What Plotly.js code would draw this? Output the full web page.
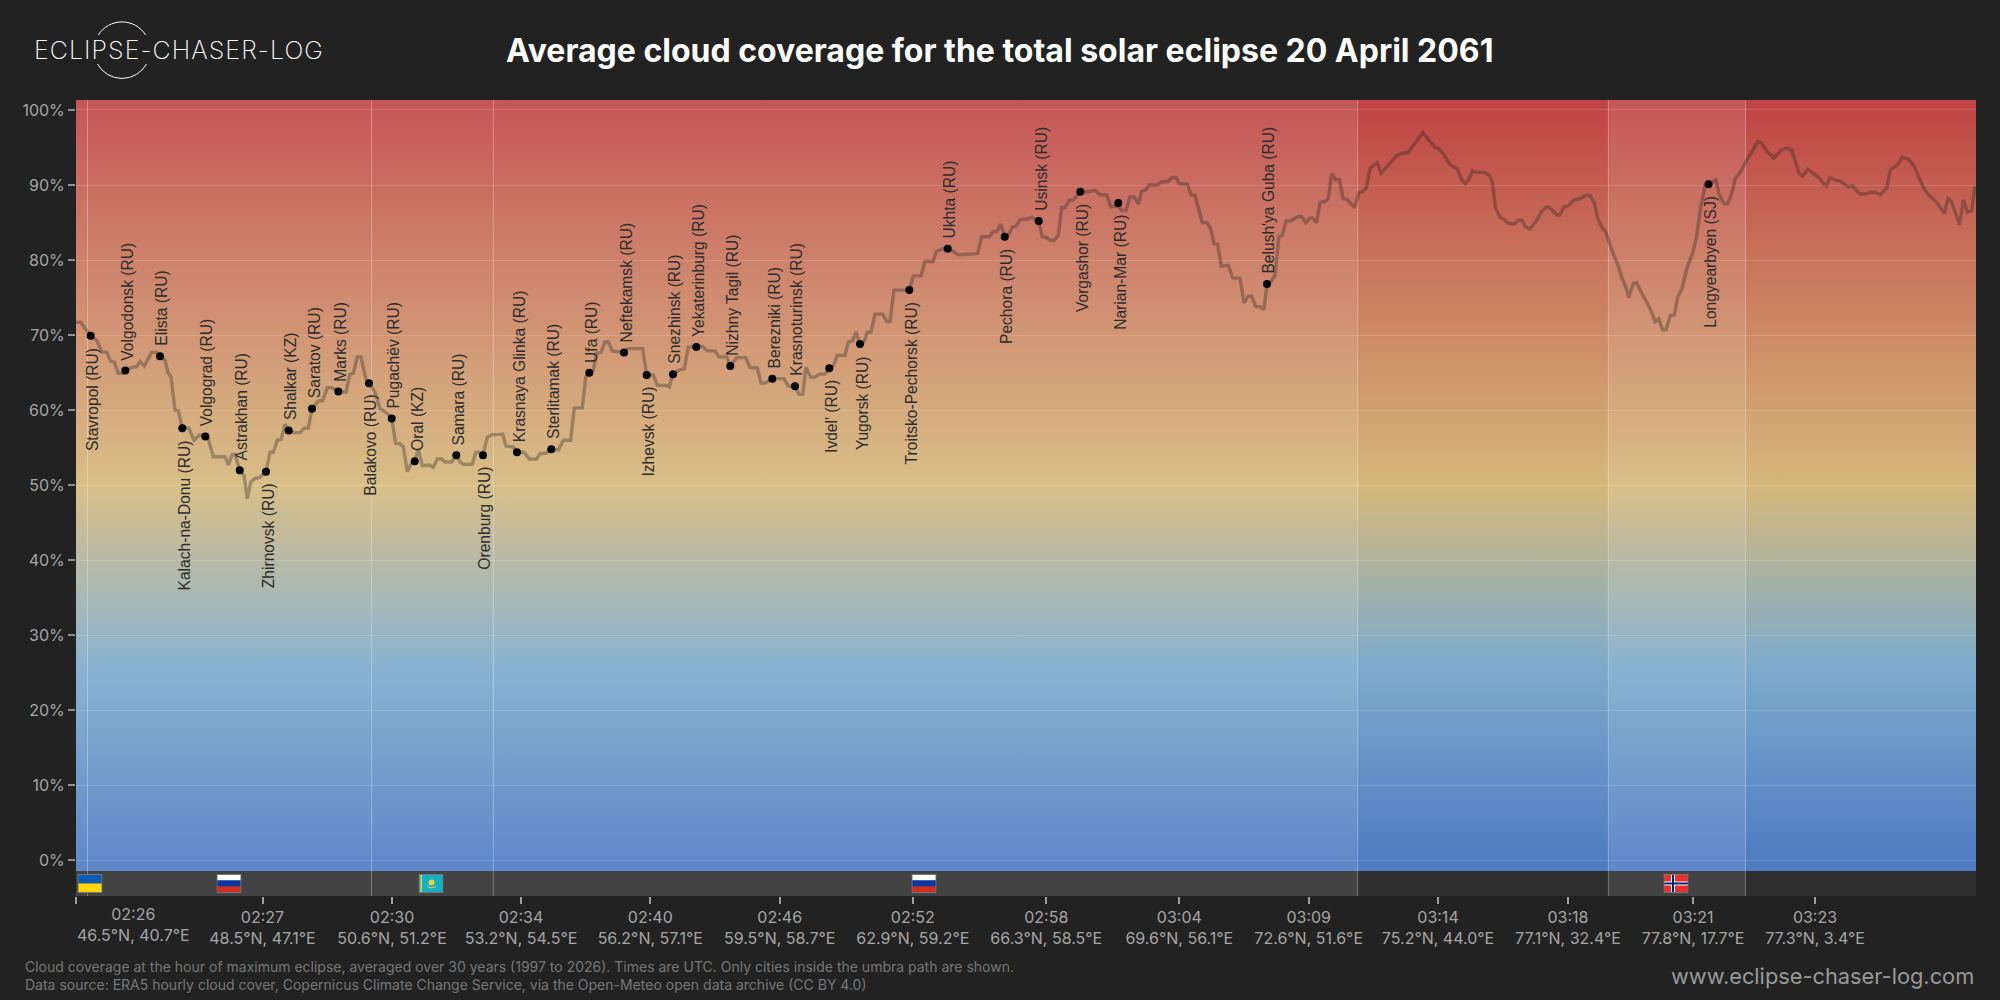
<!DOCTYPE html>
<html>
<head>
<meta charset="utf-8">
<script src="https://cdn.plot.ly/plotly-3.0.1.min.js"></script>
<style>html,body{margin:0;padding:0;background:#222222}#chart{width:2000px;height:1000px}
text[data-unformatted="ECLIPSE-CHASER-LOG"]{letter-spacing:1.05px}</style>
</head>
<body>
<div id="chart"></div>
<script>
const pathPos = [0,4.7,9,14.7,20.7,25.7,30.7,34.7,38.3,42.3,47.3,49.3,55.7,60.7,64,68.3,75.7,80.7,84,89,91.7,95,99,102.3,106.3,113,118,123.3,129.3,132.3,137.3,149,152.3,156.3,159,163.7,168,171.3,174.7,179,183.3,190,194,197.3,201.3,205,209,212.7,217.3,224,228.3,232.3,236,242.3,246.7,251.3,255.7,262.3,270,274,277.3,281.3,285,289.7,293,299,304,309,315.7,319.7,324,327.3,331.3,335,338.7,342.3,346.3,353.3,357.3,361.3,365.7,369,375.7,380.3,384,387.3,396.3,399.7,403.3,407,411.3,415.7,426.7,430,437.3,441,
448,453.3,460.7,464,470.7,475.3,482.3,487.3,494.7,498.3,506.3,509.7,513.3,517.3,520.7,525,529,532.3,536.3,544,548,551.7,566.7,570.7,577.3,581.3,589.7,593.3,597,604,608.3,612.3,620.3,626.3,631.3,639,643,650.7,654.3,660.7,669.7,674,681.3,685,689,696.3,708,712.3,719,723,726.7,730,734.7,739,743.3,749,753.3,757.3,761.3,769,772.3,776.3,780,784,788,791.3,795,799,806.7,810.7,814,
818,833.3,837.3,845,849,856.7,860.7,867.3,871.7,876.7,882.3,894,901.7,905.7,913.3,917.3,920.7,924.7,928.7,932.3,936.3,940,944,951.7,955.7,962.7,966.3,970.7,974.7,978,982.3,985.7,989,993.3,997.3,1004.3,1012.3,1019,1024,1030.7,1034.7,1042.3,1045.7,1050,1054,1058.3,1062.3,1065.7,1069.7,1073.3,1081.3,1084.7,1092.3,1095.7,1099.7,1103.3,1111.3,1115,1119,1126.3,1130.7,1134.7,1138,1141.7,1145.3,1152.3,1156.7,1164,1168,1172.3,1175.7,1179.7,1184,1188,1191,1195,1199,1203,1206.3,1210,1214,1222.3,1225.7,1229.7,1234,1236.7,1240.7,1244,1249,1252.3,
1255.7,1260,1263.5,1267,1270.9,1278.7,1283,1286.5,1290.4,1293.9,1301.2,1305.1,1313.4,1321.2,1326.4,1332,1346.8,1354.6,1358.9,1362.4,1367.6,1374.1,1381.5,1385.8,1389.3,1392.7,1396.6,1400.1,1407.9,1413.1,1416.2,1419.6,1424,1428.3,1432.6,1438.3,1442.6,1446.1,1449.1,1453.9,1460.8,1465.2,1469.5,1472.5,1481.2,1483.8,1488.1,1492,1497.7,1504.2,1509.8,1514.2,1518.5,1521.5,1525.9,1530.2,1537.6,1541.9,1545.4,1549.3,1552.8,1557.1,1560.6,1565.8,1574.9,1579.2,1582.7,1586.6,1590,1594.4,1598.3,1601.8,1606.1,1610.4,1617,1620.4,1624.7,1629.1,1634.3,1639.9,1643,1648.2,1651.6,1655.5,1659.4,1664.6,1671.1,1682,1685.5,1690.7,1698,1705.8,1710.2,1715.8,1723.2,1726.7,1731.9,1742.7,1747.9,1750.5,1754,1758.8,1764.4,1773,1776.5,1783.9,1788.2,1794.7,1799.1,1804.3,1810.8,1814.3,1822.1,1826.4,1832.9,1838.1,1842.4,1847.6,1852.4,1860.6,1868.4,1871.9,1875.4,1883.6,1887.5,1891.4,1895.8,1898.8,1900];
const cloudCover = [71.7,71.7,70.9,69.9,69.3,67.8,67.7,66.5,66.4,64.9,64.9,65.3,65.7,65.8,66.5,65.9,67.7,67.7,67.2,66.7,65.1,64.4,60.0,59.9,57.6,57.6,56.0,56.7,56.5,56.2,53.8,53.8,52.7,54.1,54.1,52.0,51.3,48.2,50.4,50.9,51.0,51.8,54.4,54.4,56.0,56.1,58.1,57.3,57.0,57.0,57.6,57.6,60.2,61.2,61.3,63.0,63.0,62.5,62.4,64.8,64.9,67.1,67.1,64.2,63.6,62.4,60.2,59.8,58.9,55.6,55.5,55.1,51.8,52.8,53.2,54.8,52.6,52.7,52.4,53.5,53.5,53.1,53.1,54.0,53.1,52.8,52.8,54.4,54.4,54.0,56.4,56.7,56.8,55.2,55.1,54.4,
54.4,53.5,53.5,54.2,54.3,54.8,54.7,56.0,56.0,60.3,60.3,64.4,65.0,65.3,67.6,67.7,69.1,69.1,67.9,67.7,67.7,68.2,68.2,64.7,64.7,63.3,63.3,63.1,64.8,65.4,65.5,68.4,68.4,68.5,67.9,67.9,67.1,67.1,65.9,67.0,67.0,65.7,65.6,63.6,63.6,64.2,64.2,63.2,63.2,62.1,62.1,65.7,64.4,64.4,64.8,64.8,65.6,65.9,67.3,67.3,69.1,69.2,70.4,68.8,69.1,70.4,70.4,72.8,72.8,71.8,71.8,
76.0,76.0,77.9,77.9,79.8,79.8,81.2,81.5,81.5,81.2,80.7,80.8,80.9,83.1,83.1,83.8,83.8,84.8,83.1,83.3,84.4,84.5,85.4,85.5,85.7,85.2,83.1,83.0,82.6,82.6,83.3,87.0,87.0,88.0,88.0,89.1,89.1,89.3,88.7,88.7,87.1,87.2,86.6,86.6,88.4,88.4,87.5,89.2,89.3,90.0,90.0,90.4,90.5,91.0,91.0,90.2,90.1,88.7,88.6,85.0,85.0,84.2,82.2,82.1,79.2,79.3,77.6,77.6,74.3,75.2,75.2,73.8,73.8,73.4,76.8,77.1,78.0,83.2,83.3,85.2,85.2,85.8,85.8,85.0,85.6,85.6,85.0,87.7,87.8,88.2,
91.5,90.7,90.7,88.2,88.1,87.0,89.0,89.1,89.6,92.2,93.0,91.6,92.8,94.0,94.2,94.3,97.0,95.6,95.0,94.9,94.1,92.7,92.1,90.7,90.2,90.7,91.9,91.7,91.7,91.3,90.5,86.9,85.7,85.4,84.9,84.8,85.3,85.3,84.5,84.1,85.3,86.4,87.0,87.1,86.0,86.0,87.1,87.2,88.0,88.2,88.6,88.6,87.6,85.6,84.4,83.6,80.7,79.4,77.8,76.6,75.0,76.8,77.0,75.6,73.3,71.8,72.2,70.7,70.7,72.6,72.7,75.1,76.2,78.7,81.1,83.0,87.0,90.0,90.2,90.7,88.8,87.5,87.5,88.8,90.9,91.8,93.4,95.8,95.6,94.5,93.6,94.7,94.9,94.7,91.5,91.2,92.1,91.0,90.1,89.9,91.0,90.7,90.5,89.7,89.9,88.8,88.8,89.0,89.0,88.7,89.6,92.0,92.8,93.7,93.4,92.5,91.1,89.6,88.7,87.7,86.2,88.2,87.8,84.7,88.0,86.4,86.6,89.6,89.6];

const cityNames = ["Stavropol (RU)","Volgodonsk (RU)","Elista (RU)","Kalach-na-Donu (RU)","Volgograd (RU)","Astrakhan (RU)","Zhirnovsk (RU)","Shalkar (KZ)","Saratov (RU)","Marks (RU)","Balakovo (RU)","Pugachëv (RU)","Oral (KZ)","Samara (RU)","Orenburg (RU)","Krasnaya Glinka (RU)","Sterlitamak (RU)","Ufa (RU)","Neftekamsk (RU)","Izhevsk (RU)","Snezhinsk (RU)","Yekaterinburg (RU)","Nizhny Tagil (RU)","Berezniki (RU)","Krasnoturinsk (RU)","Ivdel' (RU)","Yugorsk (RU)","Troitsko-Pechorsk (RU)","Ukhta (RU)","Pechora (RU)","Usinsk (RU)","Vorgashor (RU)","Narian-Mar (RU)","Belush'ya Guba (RU)","Longyearbyen (SJ)"];
const cityPos = [14.7,49.3,84,106.3,129.3,163.7,190,212.7,236,262.3,293,315.7,338.7,380.3,407,441,475.3,513.3,548,570.7,597,620.3,654.3,696.3,719,753.3,784,833.3,871.7,928.7,962.7,1004.3,1042.3,1191,1632.5];
const cityCover = [69.9,65.3,67.2,57.6,56.5,52.0,51.8,57.3,60.2,62.5,63.6,58.9,53.2,54.0,54.0,54.4,54.8,65.0,67.7,64.7,64.8,68.4,65.9,64.2,63.2,65.6,68.8,76.0,81.5,83.1,85.2,89.1,87.6,76.8,90.1];
const cityLabelSide = ["down","up","up","down","up","up","down","up","up","up","down","up","up","up","down","up","up","up","up","down","up","up","up","up","up","down","down","down","up","down","up","down","down","up","down"];

const tickPos = [0,186.5,316,445,574.3,703.7,836.8,970.3,1103.3,1232.7,1362,1492,1617,1739];
const tickTimes = ["02:26","02:27","02:30","02:34","02:40","02:46","02:52","02:58","03:04","03:09","03:14","03:18","03:21","03:23"];
const tickCoords = ["46.5°N, 40.7°E","48.5°N, 47.1°E","50.6°N, 51.2°E","53.2°N, 54.5°E","56.2°N, 57.1°E","59.5°N, 58.7°E","62.9°N, 59.2°E","66.3°N, 58.5°E","69.6°N, 56.1°E","72.6°N, 51.6°E","75.2°N, 44.0°E","77.1°N, 32.4°E","77.8°N, 17.7°E","77.3°N, 3.4°E"];
const yTicks = [0,10,20,30,40,50,60,70,80,90,100];
const yLabels = ["0%","10%","20%","30%","40%","50%","60%","70%","80%","90%","100%"];

const zoneStart = [0,1532.4];
const zoneEnd = [1281.7,1669.4];
const borderPos = [11.5,295.6,417.3,1281.7,1532.4,1669.4];
const flagPos = [14,153,355,848,1600];
const flagNames = ["UA","RU","KZ","RU","NO"];

const svgUri = s => "data:image/svg+xml;charset=utf-8," + encodeURIComponent(s);
const flagBody = {
  UA:'<rect width="24" height="9" fill="#0a5ab8"/><rect y="9" width="24" height="9" fill="#fdd50a"/>',
  RU:'<rect width="24" height="6" fill="#ffffff"/><rect y="6" width="24" height="6" fill="#0a36a8"/><rect y="12" width="24" height="6" fill="#d52b1e"/>',
  KZ:'<rect width="24" height="18" fill="#11b0c4"/><rect x="1.5" width="1.5" height="18" fill="#f0d040"/><circle cx="12.5" cy="8" r="3" fill="#f0d040"/><path d="M8 12 Q12.5 15 17 12" stroke="#f0d040" fill="none"/>',
  NO:'<rect width="24" height="18" fill="#ef2b2d"/><rect x="7" width="4" height="18" fill="#fff"/><rect y="7" width="24" height="4" fill="#fff"/><rect x="8" width="2" height="18" fill="#002868"/><rect y="8" width="24" height="2" fill="#002868"/>'
};
const flagSvg = k => svgUri('<svg xmlns="http://www.w3.org/2000/svg" width="25" height="19" viewBox="-0.5 -0.5 25 19">'+flagBody[k]+'<rect x="0" y="0" width="24" height="18" fill="none" stroke="#777" stroke-width="1"/></svg>');
const gradientSvg = svgUri('<svg xmlns="http://www.w3.org/2000/svg" width="10" height="771" preserveAspectRatio="none" viewBox="0 0 10 771"><defs><linearGradient id="g" x1="0" y1="0" x2="0" y2="1" gradientUnits="objectBoundingBox">'
  +'<stop offset="0" stop-color="#c04545"/><stop offset="0.0130" stop-color="#c04646"/><stop offset="0.4994" stop-color="#d5b87b"/><stop offset="0.7329" stop-color="#7eabcb"/><stop offset="0.9857" stop-color="#4f7cc3"/><stop offset="1" stop-color="#4e7bc2"/></linearGradient></defs><rect width="10" height="771" fill="url(#g)"/></svg>');
const logoSvg = svgUri('<svg xmlns="http://www.w3.org/2000/svg" width="64" height="64" viewBox="0 0 64 64"><path d="M8.3 17 A28 28 0 0 1 55.7 17" fill="none" stroke="#fff" stroke-width="1"/><path d="M7.5 46 A28 28 0 0 0 56.5 46" fill="none" stroke="#fff" stroke-width="1"/></svg>');

const px = x => (x-76)/1900, py = y => (896-y)/796;

const traces = [
  {type:"scatter",mode:"lines",x:pathPos,y:cloudCover,line:{color:"rgba(34,34,34,0.33)",width:3.4,shape:"linear"},hoverinfo:"skip"},
  {type:"scatter",mode:"markers",x:cityPos,y:cityCover,text:cityNames,marker:{color:"#000",size:8},hoverinfo:"text"}
];

const shapes = [];
zoneStart.forEach((s,i)=>shapes.push({type:"rect",layer:"between",xref:"x",yref:"paper",x0:s,x1:zoneEnd[i],y0:0,y1:1,fillcolor:"rgba(255,255,255,0.1)",line:{width:0}}));
borderPos.forEach(b=>shapes.push({type:"line",layer:"between",xref:"x",yref:"paper",x0:b,x1:b,y0:0,y1:1,line:{color:"rgba(255,255,255,0.3)",width:1}}));

const images = [
  {source:gradientSvg,xref:"paper",yref:"paper",x:0,y:1,sizex:1,sizey:771/796,xanchor:"left",yanchor:"top",sizing:"stretch",layer:"below"},
  {source:logoSvg,xref:"paper",yref:"paper",x:px(90),y:py(18),sizex:64/1900,sizey:64/796,xanchor:"left",yanchor:"top",sizing:"stretch",layer:"above"}
];
flagNames.forEach((f,i)=>images.push({source:flagSvg(f),xref:"x",yref:"y",x:flagPos[i],y:-3.07,sizex:25,sizey:2.53,xanchor:"center",yanchor:"middle",sizing:"stretch",layer:"above"}));

const annotations = cityNames.map((n,i)=>({
  text:n,x:cityPos[i],y:cityCover[i],xref:"x",yref:"y",showarrow:false,textangle:-90,
  xanchor:"center",yanchor:cityLabelSide[i]==="up"?"bottom":"top",xshift:2,yshift:cityLabelSide[i]==="up"?8:-10,
  font:{family:"Liberation Sans, Arial, sans-serif",size:15.6,color:"#2c2c2c"}
}));
annotations.push(
  {text:"Average cloud coverage for the total solar eclipse 20 April 2061",xref:"paper",yref:"paper",x:px(999),y:py(50),xanchor:"center",yanchor:"middle",showarrow:false,font:{family:"Inter, sans-serif",size:32,color:"#fff",weight:700}},
  {text:"ECLIPSE-CHASER-LOG",xref:"paper",yref:"paper",x:px(32),y:py(50),xanchor:"left",yanchor:"middle",showarrow:false,font:{family:"Inter, sans-serif",size:25,color:"#fff",weight:200}},
  {text:tickTimes[0]+"<br>"+tickCoords[0],xref:"paper",yref:"paper",x:0,y:py(903),xanchor:"left",yanchor:"top",align:"center",showarrow:false,borderpad:0,font:{family:"Inter, sans-serif",size:16,color:"#a6a6a6"}},
  {text:"Cloud coverage at the hour of maximum eclipse, averaged over 30 years (1997 to 2026). Times are UTC. Only cities inside the umbra path are shown.<br>Data source: ERA5 hourly cloud cover, Copernicus Climate Change Service, via the Open-Meteo open data archive (CC BY 4.0)",xref:"paper",yref:"paper",x:px(23),y:py(975),xanchor:"left",yanchor:"middle",align:"left",showarrow:false,font:{family:"Inter, sans-serif",size:14,color:"#777"}},
  {text:"www.eclipse-chaser-log.com",xref:"paper",yref:"paper",x:1,y:py(976),xanchor:"right",yanchor:"middle",showarrow:false,font:{family:"Inter, sans-serif",size:21.8,color:"#999"}}
);

const layout = {
  width:2000,height:1000,autosize:false,showlegend:false,
  paper_bgcolor:"#222222",plot_bgcolor:"#2e2e2e",
  margin:{l:76,r:24,t:100,b:104,pad:0},
  font:{family:"Inter, sans-serif",color:"#a6a6a6"},
  xaxis:{range:[0,1900],tickmode:"array",tickvals:tickPos,ticktext:tickTimes.map((t,i)=>i===0?"":t+"<br>"+tickCoords[i]),ticks:"outside",ticklen:7,tickwidth:2,tickcolor:"#a0a0a0",tickfont:{family:"Inter, sans-serif",size:16,color:"#a6a6a6"},showgrid:false,zeroline:false,showline:false,fixedrange:true,tickangle:0},
  yaxis:{range:[-4.74,101.33],tickmode:"array",tickvals:yTicks,ticktext:yLabels,ticks:"outside",ticklen:7,tickwidth:2,tickcolor:"#909090",tickfont:{family:"Inter, sans-serif",size:16,color:"#a6a6a6"},showgrid:true,gridcolor:"rgba(255,255,255,0.14)",gridwidth:1,zeroline:false,showline:false,fixedrange:true},
  shapes,images,annotations,hovermode:"closest"
};
Plotly.newPlot("chart",traces,layout,{displayModeBar:false,staticPlot:false});
</script>
</body>
</html>
